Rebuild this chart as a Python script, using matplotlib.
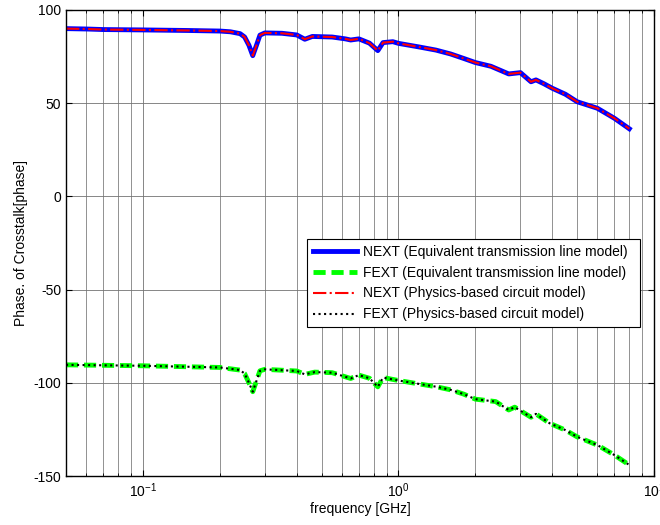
import numpy as np
import matplotlib
matplotlib.use('Agg')
import matplotlib.pyplot as plt
from matplotlib.ticker import LogLocator, NullFormatter, MultipleLocator

plt.rcParams['font.family'] = ['Liberation Sans', 'DejaVu Sans']
plt.rcParams['axes.unicode_minus'] = False

# frequency points [GHz] and crosstalk phase for NEXT
freq_next = [0.05, 0.06, 0.07, 0.1, 0.15, 0.2, 0.22, 0.24, 0.25, 0.26, 0.269,
             0.278, 0.287, 0.30, 0.35, 0.40, 0.43, 0.46, 0.55, 0.62, 0.65,
             0.70, 0.77, 0.83, 0.87, 0.95, 1.0, 1.2, 1.4, 1.6, 1.8, 2.0, 2.3,
             2.7, 3.0, 3.3, 3.45, 3.7, 4.0, 4.5, 5.0, 6.0, 7.0, 8.0]
phase_next = [90.0, 89.8, 89.5, 89.3, 89.0, 88.7, 88.3, 87.3, 85.5, 81.0, 75.5,
              81.0, 86.5, 87.7, 87.5, 86.6, 84.3, 85.8, 85.5, 84.5, 83.9,
              84.5, 82.2, 78.2, 82.5, 83.0, 82.1, 80.2, 78.5, 76.4, 74.0, 71.8, 69.8,
              65.7, 66.4, 61.5, 62.5, 60.5, 58.0, 54.8, 50.8, 47.3, 41.9, 36.3]

# frequency points [GHz] and crosstalk phase for FEXT
freq_fext = [0.05, 0.1, 0.2, 0.24, 0.25, 0.26, 0.269, 0.278, 0.287, 0.30, 0.40,
             0.43, 0.47, 0.55, 0.65, 0.70, 0.77, 0.83, 0.87, 1.0, 1.2, 1.4, 1.6,
             1.8, 2.0, 2.4, 2.7, 2.85, 3.3, 3.45, 3.9, 4.5, 5.0, 6.0, 7.0, 8.0]
phase_fext = [-90.3, -90.8, -91.7, -93.1, -95.0, -100.0, -104.7, -99.0, -93.5, -92.7, -93.6,
              -95.4, -94.2, -94.5, -97.6, -95.8, -97.5, -102.1, -97.1, -98.7, -100.5, -102.0, -103.7,
              -106.0, -108.7, -110.0, -114.5, -113.0, -118.4, -116.6, -121.6, -125.3, -128.9, -133.3, -138.7, -144.0]

fig = plt.figure(figsize=(6.6, 5.25), dpi=100)
ax = fig.add_axes([0.1, 0.093, 0.891, 0.888])

ax.semilogx(freq_next, phase_next, color='#0000ff', lw=3.5,
            label='NEXT (Equivalent transmission line model)')
ax.semilogx(freq_fext, phase_fext, color='#00ff00', lw=3.5, linestyle=(0, (2.5, 1.2)),
            label='FEXT (Equivalent transmission line model)')
ax.semilogx(freq_next, phase_next, color='#ff0000', lw=1.5, linestyle='-.',
            label='NEXT (Physics-based circuit model)')
ax.semilogx(freq_fext, phase_fext, color='black', lw=1.5, linestyle=':',
            label='FEXT (Physics-based circuit model)')

ax.set_xlim(0.05, 10)
ax.set_ylim(-150, 100)
ax.yaxis.set_major_locator(MultipleLocator(50))
ax.xaxis.set_major_locator(LogLocator(base=10))
ax.xaxis.set_minor_locator(LogLocator(base=10, subs=np.arange(2, 10)))
ax.xaxis.set_minor_formatter(NullFormatter())

ax.grid(True, which='major', axis='both', color='0.45', linestyle='-', lw=0.6)
ax.grid(True, which='minor', axis='x', color='0.5', linestyle='-', lw=0.6)

ax.tick_params(which='both', direction='in', top=True, right=True, labelsize=10)
ax.tick_params(which='major', length=4)
ax.tick_params(which='minor', length=2.5)
for sp in ax.spines.values():
    sp.set_linewidth(1.0)

ax.set_xlabel('frequency [GHz]', fontsize=10, labelpad=2)
ax.set_ylabel('Phase. of Crosstalk[phase]', fontsize=10, labelpad=4)

leg = ax.legend(loc='lower left', bbox_to_anchor=(0.41, 0.32, 0.566, 0.186), mode='expand',
                fontsize=10, handlelength=3.2, handletextpad=0.4, borderpad=0.4,
                labelspacing=0.5, fancybox=False, framealpha=1, edgecolor='black',
                borderaxespad=0)
leg.get_frame().set_linewidth(0.8)

fig.savefig('out.png', dpi=100)
